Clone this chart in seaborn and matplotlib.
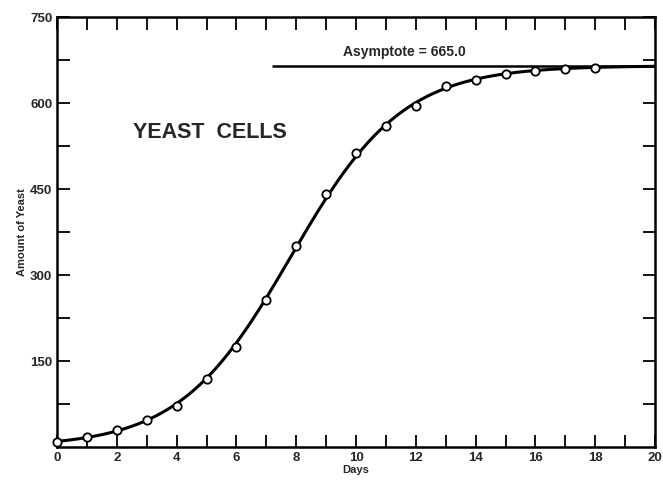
import numpy as np
import pandas as pd
import seaborn as sns
import matplotlib.pyplot as plt

# Data (Carlson's yeast growth)
days = np.arange(0, 19)
yeast = [9.6, 18.3, 29.0, 47.2, 71.1, 119.1, 174.6, 257.3, 350.7, 441.0,
         513.3, 559.7, 594.8, 629.4, 640.8, 651.1, 655.9, 659.6, 661.8]
asymptote = 665.0
# fitted logistic parameters
rate = 0.5355
shift = 4.1896
x_ticks = list(range(0, 21, 2))
y_ticks = [150, 300, 450, 600, 750]

df = pd.DataFrame({'Days': days, 'Yeast': yeast})
t = np.linspace(0, 20, 400)
fit = pd.DataFrame({'Days': t, 'Yeast': asymptote / (1 + np.exp(shift - rate * t))})

# Drawing
sns.set_style("ticks")
plt.rcParams['font.family'] = ['Liberation Sans', 'DejaVu Sans']
fig = plt.figure(figsize=(6.63, 4.86), dpi=100)
ax = fig.add_axes([0.086, 0.080, 0.902, 0.885])

sns.lineplot(fit, x='Days', y='Yeast', color='black', linewidth=2.2, ax=ax)
sns.scatterplot(df, x='Days', y='Yeast', marker='o', s=36, facecolor='white',
                edgecolor='black', linewidth=1.3, ax=ax, zorder=3, clip_on=False)
ax.hlines(asymptote, 7.2, 20, color='black', linewidth=1.8)
ax.text(9.55, asymptote + 12, 'Asymptote = %.1f' % asymptote, fontsize=10,
        fontweight='bold', ha='left', va='bottom')
ax.text(2.55, 600 - 52, 'YEAST  CELLS', fontsize=15.5, fontweight='bold', ha='left', va='center')

ax.set_xlim(0, 20)
ax.set_ylim(0, 750)
ax.set_xticks(x_ticks)
ax.set_xticks(range(0, 21), minor=True)
ax.set_yticks(y_ticks)
ax.set_yticks(np.arange(75, 750, 75), minor=True)
ax.tick_params(which='both', direction='in', top=True, right=True, width=1.3, color='black')
ax.tick_params(which='major', length=9, labelsize=9.5)
ax.tick_params(which='minor', length=9)
for lab in ax.get_xticklabels() + ax.get_yticklabels():
    lab.set_fontweight('bold')
for s in ax.spines.values():
    s.set_linewidth(1.8)
    s.set_color('black')
ax.set_xlabel('Days', fontsize=8, fontweight='bold', labelpad=1)
ax.set_ylabel('Amount of Yeast', fontsize=8, fontweight='bold', labelpad=2)

fig.savefig('out.png', dpi=100)
